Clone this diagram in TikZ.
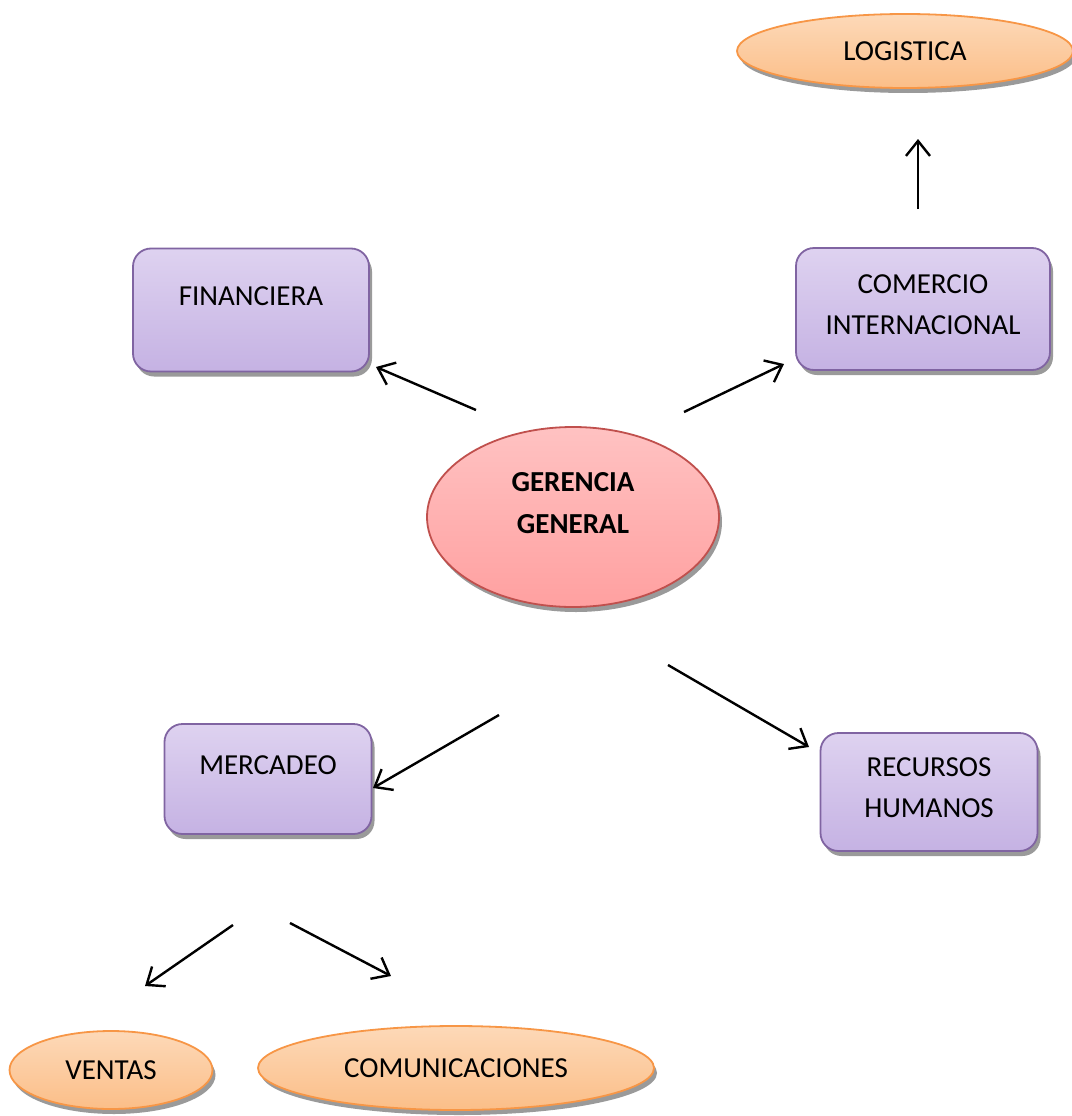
\documentclass[tikz,border=0pt]{standalone}
\usepackage{fontspec}
\setmainfont{Carlito}
\usepackage{tikz}
\usetikzlibrary{arrows.meta,shapes.geometric,shadows}
\definecolor{unitline}{HTML}{8064A2}
\definecolor{unittop}{HTML}{DED2F0}
\definecolor{unitbot}{HTML}{C5B2E3}
\definecolor{arealine}{HTML}{F79646}
\definecolor{areatop}{HTML}{FDD9B8}
\definecolor{areabot}{HTML}{FBBE88}
\definecolor{headline}{HTML}{C0504D}
\definecolor{headtop}{HTML}{FFC2C2}
\definecolor{headbot}{HTML}{FFA0A0}
\definecolor{shade}{HTML}{9A9A9A}

\begin{document}
\begin{tikzpicture}[x=1pt,y=-1pt,
  every node/.style={font=\fontsize{29}{41}\selectfont,align=center},
  box/.style={rectangle,rounded corners=18pt,draw=unitline,line width=1.8pt,
    top color=unittop,bottom color=unitbot,inner sep=0pt,
    drop shadow={shadow xshift=3pt,shadow yshift=-5pt,fill=shade,opacity=1}},
  oval/.style={ellipse,draw=arealine,line width=1.8pt,
    top color=areatop,bottom color=areabot,inner sep=0pt,
    drop shadow={shadow xshift=3pt,shadow yshift=-5pt,fill=shade,opacity=1}},
  flow/.style={-{Straight Barb[length=15pt,width=24pt]},line width=2.4pt,black}]
  \useasboundingbox (0,0) rectangle (1071,1116);
  % center
  \node[ellipse,draw=headline,line width=1.8pt,top color=headtop,bottom color=headbot,
    inner sep=0pt,minimum width=292pt,minimum height=180pt,text height=70pt,text depth=38pt,
    drop shadow={shadow xshift=3pt,shadow yshift=-5pt,fill=shade,opacity=1},
    font=\fontsize{29}{42}\selectfont\bfseries] (ger) at (573,517) {GERENCIA\\GENERAL};
  % units
  \node[box,minimum width=236pt,text height=57pt,text depth=66pt] (fin) at (251,310) {FINANCIERA};
  \node[box,minimum width=254pt,text height=86pt,text depth=36pt] (com) at (923,309) {COMERCIO\\INTERNACIONAL};
  \node[box,minimum width=207pt,text height=50pt,text depth=60pt] (mer) at (268,779) {MERCADEO};
  \node[box,minimum width=217pt,text height=84pt,text depth=34pt] (rec) at (929,792) {RECURSOS\\HUMANOS};
  % areas
  \node[oval,minimum width=336pt,minimum height=74pt] (log) at (905,51) {LOGISTICA};
  \node[oval,minimum width=203pt,minimum height=78pt] (ven) at (111,1070) {VENTAS};
  \node[oval,minimum width=396pt,minimum height=84pt] (comu) at (456,1068) {COMUNICACIONES};
  % arrows
  \coordinate (fin-a) at (476,410); \coordinate (fin-b) at (376,367);
  \coordinate (com-a) at (684,412); \coordinate (com-b) at (784,364);
  \coordinate (log-a) at (918,209); \coordinate (log-b) at (918,139);
  \coordinate (mer-a) at (499,715); \coordinate (mer-b) at (373,788);
  \coordinate (rec-a) at (668,665); \coordinate (rec-b) at (809,747);
  \coordinate (ven-a) at (233,925); \coordinate (ven-b) at (145,986);
  \coordinate (comu-a) at (290,923); \coordinate (comu-b) at (391,976);
  \foreach \n in {fin,com,log,mer,rec,ven,comu}
    \draw[flow] (\n-a) -- (\n-b);
\end{tikzpicture}
\end{document}
